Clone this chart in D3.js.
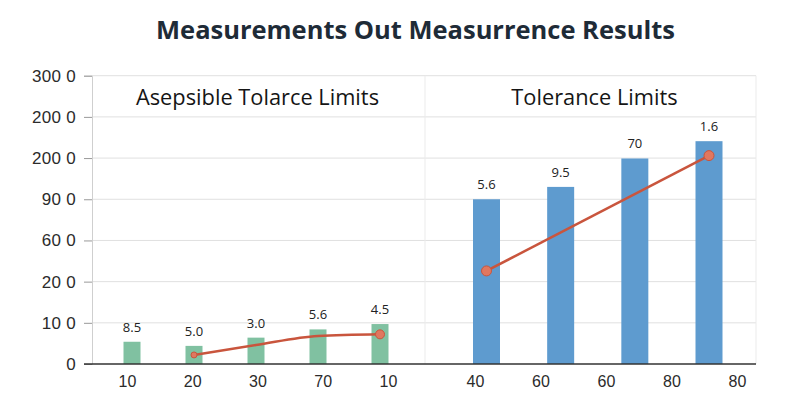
<!DOCTYPE html>
<html>
<head>
<meta charset="utf-8">
<script src="https://cdn.jsdelivr.net/npm/d3@7"></script>
<style>
  body { margin: 0; background: #fff; }
  svg { display: block; font-family: "Open Sans", sans-serif; }
</style>
</head>
<body>
<svg width="800" height="400"></svg>
<script>
// values (y units: one grid step = 10)
const yTickValues = [0, 10, 20, 30, 40, 50, 60, 70];
const yTickLabels = ['0', '10 0', '20 0', '60 0', '90 0', '200 0', '200 0', '300 0'];

const leftXLabels = ['10', '20', '30', '70', '10'];
const rightXLabels = ['40', '60', '60', '80', '80'];

const leftBars = [5.4, 4.4, 6.4, 8.4, 9.7];
const leftBarLabels = ['8.5', '5.0', '3.0', '5.6', '4.5'];
const leftLineIdx = [1, 2, 3, 4];
const leftLineVals = [2.2, 4.6, 6.8, 7.2];

const rightBars = [40.0, 43.0, 49.9, 54.1];
const rightBarLabels = ['5.6', '9.5', '70', '1.6'];
const rightLineIdx = [0, 3];
const rightLineVals = [22.6, 50.6];

const panelTitles = ['Asepsible Tolarce Limits', 'Tolerance Limits'];

const plot = {left: 92, right: 756, top: 75.7, bottom: 364, split: 425};

const svg = d3.select('svg');

const y = d3.scaleLinear()
  .domain([0, 70])
  .range([plot.bottom, plot.top]);

const xLeftAxis = d3.scalePoint().domain(d3.range(5)).range([127, 388]);
const xRightAxis = d3.scalePoint().domain(d3.range(5)).range([475, 737]);
const xLeftBars = d3.scalePoint().domain(d3.range(5)).range([132, 380]);
const xRightBars = d3.scalePoint().domain(d3.range(4)).range([486.5, 709]);

// title, sized so it spans the same width as in the picture
const title = svg.append('text')
  .attr('x', 415.5)
  .attr('y', 38.5)
  .attr('text-anchor', 'middle')
  .style('font-family', '"Open Sans", sans-serif')
  .style('font-weight', 700)
  .style('font-size', '24px')
  .style('fill', '#1e2b37')
  .text('Measurements Out Measurrence Results');
const tw = title.node().getComputedTextLength();
title.style('font-size', (24 * 519 / tw).toFixed(2) + 'px');

// grid
svg.append('g')
  .selectAll('line')
  .data(yTickValues.slice(1))
  .enter().append('line')
    .attr('x1', plot.left)
    .attr('x2', plot.right)
    .attr('y1', d => y(d))
    .attr('y2', d => y(d))
    .attr('stroke', '#e0e0e0')
    .attr('stroke-width', 1);

[plot.split, plot.right].forEach(xp => {
  svg.append('line')
    .attr('x1', xp).attr('x2', xp)
    .attr('y1', plot.top).attr('y2', plot.bottom)
    .attr('stroke', '#ebebeb');
});

// y axis
const yAxis = svg.append('g')
  .attr('transform', `translate(${plot.left},0)`)
  .call(d3.axisLeft(y)
    .tickValues(yTickValues)
    .tickFormat((d, i) => yTickLabels[i])
    .tickSize(8)
    .tickPadding(8));
yAxis.select('.domain').attr('stroke', '#cfcfcf');
yAxis.selectAll('.tick line').attr('stroke', '#999');
yAxis.selectAll('text')
  .style('font-size', '17px')
  .style('letter-spacing', '0.3px')
  .style('fill', '#2b2b2b');

// x axes (labels only)
[[xLeftAxis, leftXLabels], [xRightAxis, rightXLabels]].forEach(([sc, labels]) => {
  const g = svg.append('g')
    .attr('transform', `translate(0,${plot.bottom})`)
    .call(d3.axisBottom(sc)
      .tickFormat(i => labels[i])
      .tickSize(0)
      .tickPadding(12));
  g.select('.domain').remove();
  g.selectAll('text')
    .style('font-size', '16px')
    .style('fill', '#2b2b2b');
});

// panel titles
[[257.5, panelTitles[0]], [594.5, panelTitles[1]]].forEach(([cx, t]) => {
  svg.append('text')
    .attr('x', cx)
    .attr('y', 105)
    .attr('text-anchor', 'middle')
    .style('font-size', '21.8px')
    .style('fill', '#151515')
    .text(t);
});

// bars
const drawBars = (vals, labels, sc, w, color) => {
  const g = svg.append('g');
  g.selectAll('rect').data(vals)
    .enter().append('rect')
      .attr('x', (d, i) => sc(i) - w / 2)
      .attr('y', d => y(d))
      .attr('width', w)
      .attr('height', d => y(0) - y(d))
      .attr('fill', color);
  g.selectAll('text').data(vals)
    .enter().append('text')
      .attr('x', (d, i) => sc(i))
      .attr('y', d => y(d) - 10)
      .attr('text-anchor', 'middle')
      .style('font-size', '13px')
      .style('fill', '#222')
      .text((d, i) => labels[i]);
};

drawBars(leftBars, leftBarLabels, xLeftBars, 17, '#80c1a1');
drawBars(rightBars, rightBarLabels, xRightBars, 27, '#5e9bcf');

// x axis baseline
svg.append('line')
  .attr('x1', 84).attr('x2', plot.right)
  .attr('y1', y(0)).attr('y2', y(0))
  .attr('stroke', '#333')
  .attr('stroke-width', 1.5);

// lines
const lineColor = '#c9553d';

const leftPts = leftLineIdx.map((i, k) => [xLeftBars(i), y(leftLineVals[k])]);
const rightPts = rightLineIdx.map((i, k) => [xRightBars(i), y(rightLineVals[k])]);

svg.append('path')
  .attr('d', d3.line().curve(d3.curveMonotoneX)(leftPts))
  .attr('fill', 'none')
  .attr('stroke', lineColor)
  .attr('stroke-width', 2.5);

svg.append('path')
  .attr('d', d3.line()(rightPts))
  .attr('fill', 'none')
  .attr('stroke', lineColor)
  .attr('stroke-width', 2.5);

const dots = [
  {p: leftPts[0], r: 3},
  {p: leftPts[leftPts.length - 1], r: 4.5},
  {p: rightPts[0], r: 5},
  {p: rightPts[1], r: 5}
];

svg.append('g')
  .selectAll('circle').data(dots)
  .enter().append('circle')
    .attr('cx', d => d.p[0])
    .attr('cy', d => d.p[1])
    .attr('r', d => d.r)
    .attr('fill', '#e0775f')
    .attr('stroke', lineColor)
    .attr('stroke-width', 1);
</script>
</body>
</html>
